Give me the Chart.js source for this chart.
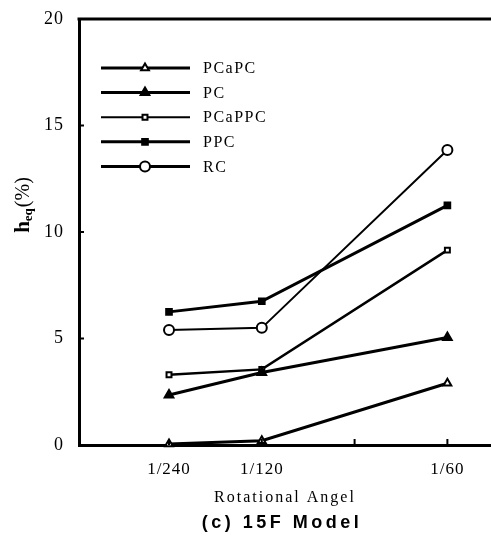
<!DOCTYPE html>
<html>
<head>
<meta charset="utf-8">
<script src="https://cdn.jsdelivr.net/npm/chart.js@4"></script>
<style>
  html, body { margin: 0; padding: 0; background: #fff; }
  #wrap { width: 491px; height: 545px; position: relative; }
</style>
</head>
<body>
<div id="wrap"><canvas id="chart"></canvas></div>
<script>
// rotational angle (rad) of the three loading steps
const angles = [1 / 240, 1 / 120, 1 / 60];
const xTickValues = [1 / 240, 1 / 120, 1 / 80, 1 / 60];
const xTickLabels = ['1/240', '1/120', '', '1/60'];
const yTickValues = [0, 5, 10, 15, 20];

// h_eq (%) per model
const pcapc = [0.05, 0.2, 2.9];
const pc = [2.35, 3.4, 5.05];
const pcappc = [3.3, 3.55, 9.15];
const ppc = [6.25, 6.75, 11.25];
const rc = [5.4, 5.5, 13.85];

const names = ['PCaPC', 'PC', 'PCaPPC', 'PPC', 'RC'];

const pts = arr => arr.map((v, i) => ({ x: angles[i], y: v }));

const series = [
  { label: names[0], data: pts(pcapc), pointStyle: 'triangle', fill: '#fff', radius: 4.5, width: 3 },
  { label: names[1], data: pts(pc), pointStyle: 'triangle', fill: '#000', radius: 5, width: 3 },
  { label: names[2], data: pts(pcappc), pointStyle: 'rect', fill: '#fff', radius: 3.5, width: 2.5 },
  { label: names[3], data: pts(ppc), pointStyle: 'rect', fill: '#000', radius: 4, width: 3 },
  { label: names[4], data: pts(rc), pointStyle: 'circle', fill: '#fff', radius: 5, width: 2 }
];

const decor = {
  id: 'decor',
  beforeDraw(chart) {
    const ctx = chart.ctx;
    ctx.save();
    ctx.fillStyle = '#fff';
    ctx.fillRect(0, 0, chart.width, chart.height);
    ctx.restore();
    ctx.letterSpacing = '1px';
  },
  afterDraw(chart) {
    const { ctx, chartArea: { left, top, right, bottom }, scales: { x, y } } = chart;
    ctx.save();
    ctx.strokeStyle = '#000';
    ctx.fillStyle = '#000';

    // top frame line
    ctx.lineWidth = 3;
    ctx.beginPath();
    ctx.moveTo(left - 1.5, top);
    ctx.lineTo(chart.width, top);
    ctx.stroke();

    // inward tick marks
    ctx.lineWidth = 2;
    ctx.beginPath();
    yTickValues.forEach(v => {
      if (v === 0 || v === 20) return;
      const py = y.getPixelForValue(v);
      ctx.moveTo(left, py);
      ctx.lineTo(left + 5, py);
    });
    xTickValues.forEach(v => {
      const px = x.getPixelForValue(v);
      ctx.moveTo(px, bottom);
      ctx.lineTo(px, bottom - 6);
    });
    ctx.stroke();

    // legend inside the plot
    ctx.font = '16px "Liberation Serif", "Times New Roman", serif';
    ctx.letterSpacing = '1.5px';
    ctx.textBaseline = 'middle';
    ctx.textAlign = 'left';
    series.forEach((s, i) => {
      const ly = 68 + i * 24.6;
      ctx.lineWidth = s.width === 2.5 ? 2 : 3;
      ctx.beginPath();
      ctx.moveTo(101, ly);
      ctx.lineTo(190, ly);
      ctx.stroke();
      ctx.fillStyle = s.fill;
      ctx.lineWidth = 2;
      Chart.helpers.drawPoint(ctx, { pointStyle: s.pointStyle, radius: s.radius, borderWidth: 2, rotation: 0 }, 145, ly);
      ctx.fillStyle = '#000';
      ctx.fillText(s.label, 203, ly + 1);
    });

    // y title h_eq(%)
    ctx.save();
    ctx.translate(22, 205);
    ctx.rotate(-Math.PI / 2);
    ctx.letterSpacing = '0px';
    const fBig = 'bold 21px "Liberation Serif", serif';
    const fSub = 'bold 13px "Liberation Serif", serif';
    const fPct = '20px "Liberation Serif", serif';
    ctx.font = fBig; const wH = ctx.measureText('h').width;
    ctx.font = fSub; const wS = ctx.measureText('eq').width;
    ctx.font = fPct; const wP = ctx.measureText('(%)').width;
    let tx = -(wH + wS + wP + 1) / 2;
    ctx.textBaseline = 'alphabetic';
    ctx.font = fBig; ctx.fillText('h', tx, 7); tx += wH;
    ctx.font = fSub; ctx.fillText('eq', tx, 10); tx += wS + 1;
    ctx.font = fPct; ctx.fillText('(%)', tx, 7);
    ctx.restore();

    // bottom titles
    const cx = (left + right) / 2;
    ctx.textAlign = 'center';
    ctx.textBaseline = 'middle';
    ctx.font = '16px "Liberation Serif", serif';
    ctx.letterSpacing = '2px';
    ctx.fillText('Rotational Angel', cx, 498);
    ctx.font = 'bold 18px "Liberation Sans", Arial, sans-serif';
    ctx.letterSpacing = '3.5px';
    ctx.fillText('(c) 15F Model', cx - 3, 523);
    ctx.restore();
  }
};

new Chart(document.getElementById('chart'), {
  type: 'line',
  data: {
    datasets: series.map(s => ({
      label: s.label,
      data: s.data,
      borderColor: '#000',
      backgroundColor: s.fill,
      pointBackgroundColor: s.fill,
      pointBorderColor: '#000',
      pointStyle: s.pointStyle,
      pointRadius: s.radius,
      pointBorderWidth: 2,
      borderWidth: s.width,
      tension: 0,
      fill: false,
      clip: false
    }))
  },
  options: {
    responsive: true,
    maintainAspectRatio: false,
    animation: false,
    layout: { autoPadding: false, padding: { top: 19, right: 0, left: 0, bottom: 0 } },
    plugins: {
      legend: { display: false },
      tooltip: { enabled: false }
    },
    scales: {
      x: {
        type: 'linear',
        min: 0.03 / 240,
        max: 4.47 / 240,
        grid: { display: false },
        border: { display: true, color: '#000', width: 3 },
        afterBuildTicks: scale => { scale.ticks = xTickValues.map(v => ({ value: v })); },
        afterFit: scale => {
          scale.height = 100;
          scale.paddingLeft = 0;
          scale.paddingRight = 0;
        },
        ticks: {
          padding: 6,
          color: '#000',
          maxRotation: 0,
          autoSkip: false,
          font: { family: '"Liberation Serif", "Times New Roman", serif', size: 17 },
          callback: (v, i) => xTickLabels[i]
        }
      },
      y: {
        min: 0,
        max: 20,
        grid: { display: false },
        border: { display: true, color: '#000', width: 3 },
        afterBuildTicks: scale => { scale.ticks = yTickValues.map(v => ({ value: v })); },
        afterFit: scale => {
          scale.width = 79;
          scale.paddingTop = 0;
          scale.paddingBottom = 0;
        },
        ticks: {
          padding: 7,
          color: '#000',
          font: { family: '"Liberation Serif", "Times New Roman", serif', size: 18 }
        }
      }
    }
  },
  plugins: [decor]
});
</script>
</body>
</html>
